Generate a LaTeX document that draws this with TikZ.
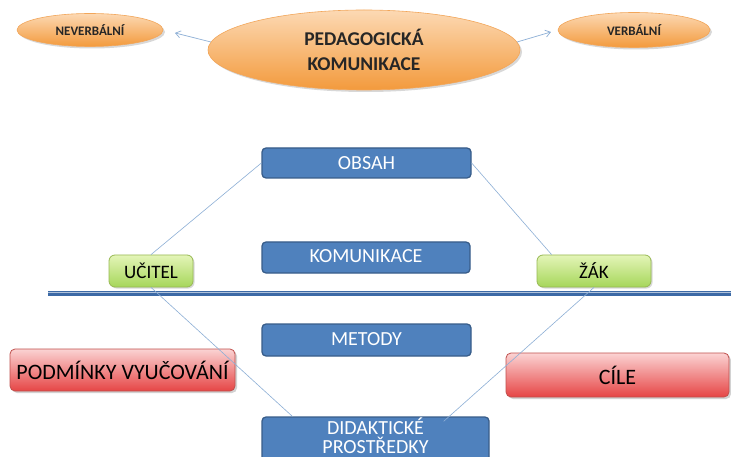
\documentclass[tikz,border=0pt]{standalone}
\usepackage{fontspec}
\setmainfont{Carlito}
\usetikzlibrary{shadows,calc,arrows.meta,shapes.geometric}
\definecolor{bfill}{HTML}{4F81BD}
\definecolor{bdraw}{HTML}{385D8A}
\definecolor{gtop}{HTML}{E4F5B8}
\definecolor{gbot}{HTML}{A6D65A}
\definecolor{gdraw}{HTML}{98B954}
\definecolor{rtop}{HTML}{FBD3D3}
\definecolor{rbot}{HTML}{E64545}
\definecolor{rdraw}{HTML}{C0504D}
\definecolor{otop}{HTML}{FCD9B4}
\definecolor{obot}{HTML}{F39A3C}
\definecolor{odraw}{HTML}{F2A65A}
\definecolor{conn}{HTML}{8DAFD6}
\definecolor{hline}{HTML}{3D6AA6}
\tikzset{
  bluebox/.style={rectangle, rounded corners=4pt, draw=bdraw, line width=1.3pt, fill=bfill,
    text=white, font=\fontsize{20}{24}\selectfont, minimum width=208pt, minimum height=31pt, inner sep=0pt},
  greenbox/.style={rectangle, rounded corners=6pt, draw=gdraw, line width=0.8pt, top color=gtop, bottom color=gbot,
    text=black, font=\fontsize{19}{22}\selectfont, minimum height=32pt, inner sep=0pt,
    drop shadow={shadow xshift=1.5pt, shadow yshift=-1.5pt, opacity=0.3}},
  redbox/.style={rectangle, rounded corners=5pt, draw=rdraw, line width=0.8pt, top color=rtop, bottom color=rbot,
    text=black, font=\fontsize{22}{26}\selectfont, minimum width=224pt, inner sep=0pt,
    drop shadow={shadow xshift=2pt, shadow yshift=-2pt, opacity=0.35}},
  oval/.style={ellipse, draw=odraw, line width=0.6pt, top color=otop, bottom color=obot, inner sep=0pt,
    text=black!85, font=\bfseries,
    drop shadow={shadow xshift=2pt, shadow yshift=-2pt, opacity=0.3}},
  conline/.style={draw=conn, line width=0.6pt},
  arr/.style={draw=conn, line width=0.7pt, -{Straight Barb[length=5pt,width=7pt]}},
}
\begin{document}
\begin{tikzpicture}[x=1pt,y=-1pt]
\useasboundingbox[fill=white] (0,0) rectangle (731,457);
% top ellipses
\node[oval, minimum width=146pt, minimum height=33pt, font=\bfseries\fontsize{13}{15}\selectfont] (nev) at (90,30) {NEVERBÁLNÍ};
\node[oval, minimum width=312pt, minimum height=80pt, font=\bfseries\fontsize{19.5}{25}\selectfont, align=center] (ped) at (364,50) {PEDAGOGICKÁ\\KOMUNIKACE};
\node[oval, minimum width=152pt, minimum height=35pt, font=\bfseries\fontsize{13}{15}\selectfont] (ver) at (634,30) {VERBÁLNÍ};
\draw[arr, shorten >=12pt] (ped.177) -- (nev.east);
\draw[arr, shorten >=7pt] (ped.3) -- (ver.west);
% horizontal line
\coordinate (hl) at (48,293);
\coordinate (hr) at (731,293);
\draw[hline, line width=5pt] (hl) -- (hr);
\draw[white!60!hline, line width=0.8pt] ($(hl)+(0,-0.5)$) -- ($(hr)+(0,-0.5)$);
% blue boxes
\node[bluebox, minimum width=209pt, minimum height=30pt] (obsah) at (366.5,163) {OBSAH};
\node[bluebox] (komun) at (366,257.5) {\raisebox{2pt}{KOMUNIKACE}};
\node[bluebox, minimum width=209pt, minimum height=32pt] (metody) at (366.5,340) {\raisebox{1pt}{METODY}};
\node[bluebox, minimum width=227pt, minimum height=52pt] (didak) at (375.5,443) {};
\node[text=white, font=\fontsize{20}{19}\selectfont, align=center, inner sep=0pt] (didaktext) at (375.5,435.5) {DIDAKTICKÉ\\PROSTŘEDKY};
% green boxes
\node[greenbox, minimum width=84pt] (ucitel) at (151,271) {UČITEL};
\node[greenbox, minimum width=114pt] (zak) at (594,271) {ŽÁK};
% red boxes
\node[redbox, minimum width=225pt, minimum height=42pt] (podm) at (122.5,370) {PODMÍNKY VYUČOVÁNÍ};
\node[redbox, minimum width=223pt, minimum height=44pt] (cile) at (617.5,375) {CÍLE};
% connectors
\draw[conline] (obsah.west) -- (ucitel.north);
\draw[conline] (obsah.east) -- ([xshift=15pt]zak.north west);
\draw[conline] (ucitel.south) -- ([xshift=31pt]didak.north west);
\draw[conline] (zak.south) -- ([xshift=-46pt,yshift=-5pt]didak.north east);
\end{tikzpicture}
\end{document}
